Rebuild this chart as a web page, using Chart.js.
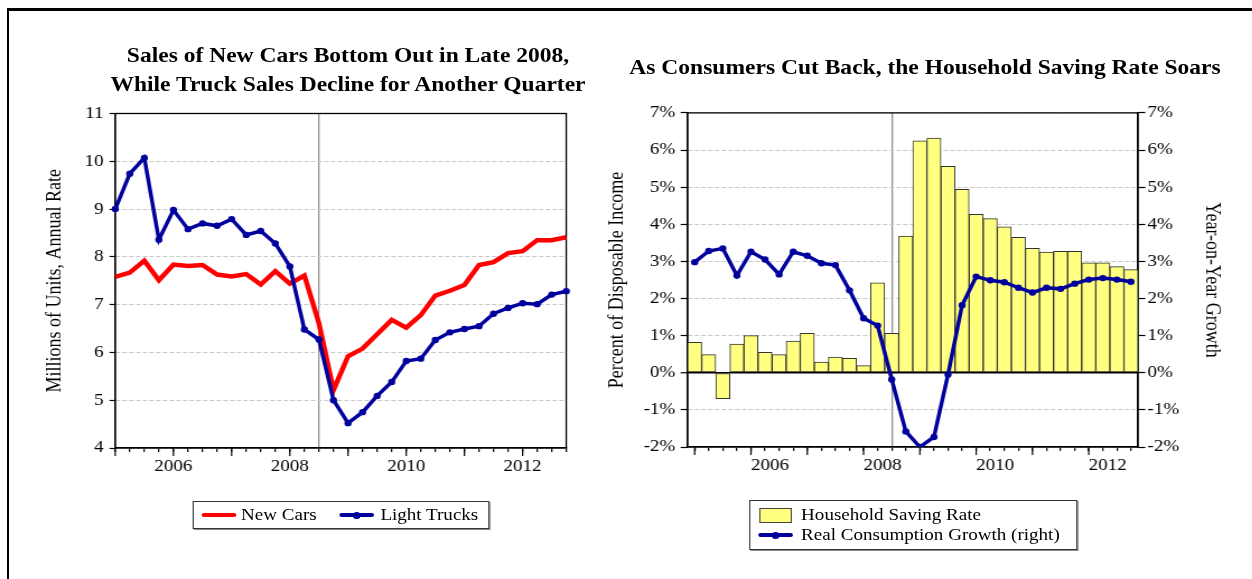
<!DOCTYPE html>
<html>
<head>
<meta charset="utf-8">
<title>New car sales and the household saving rate</title>
<script src="https://cdn.jsdelivr.net/npm/chart.js@4.4.1/dist/chart.umd.min.js"></script>
<style>
html,body{margin:0;padding:0;background:#fff;}
body{width:1252px;height:579px;overflow:hidden;position:relative;}
#frame{position:absolute;left:7px;top:8px;width:1260px;height:590px;border-left:2.5px solid #000;border-top:3px solid #000;}
#sheet{position:absolute;left:0;top:0;height:579px;transform-origin:0 0;font-family:"Liberation Serif","Times New Roman",serif;color:#000;}
#sheet canvas{position:absolute;}
.title{position:absolute;font-weight:bold;font-size:21px;line-height:29px;text-align:center;white-space:nowrap;transform:translateX(-50%);}
.legend{position:absolute;border:1px solid #333;box-shadow:1px 1px 0 #888;background:#fff;font-size:17px;}
.legend div{position:absolute;white-space:nowrap;line-height:20px;}
.swatch{background:#ffff80;border:1px solid #444;box-sizing:border-box;}
.stroke{height:4px;border-radius:2px;}
.stroke.dot::after{content:"";position:absolute;left:50%;top:50%;width:7px;height:7px;margin:-3.5px 0 0 -3.5px;border-radius:50%;background:inherit;}
</style>
</head>
<body>
<div id="frame"></div>
<div id="sheet"></div>
<script>
// quarterly data, 2005Q1 - 2012Q4
const quarters = [
  '2005Q1','2005Q2','2005Q3','2005Q4','2006Q1','2006Q2','2006Q3','2006Q4',
  '2007Q1','2007Q2','2007Q3','2007Q4','2008Q1','2008Q2','2008Q3','2008Q4',
  '2009Q1','2009Q2','2009Q3','2009Q4','2010Q1','2010Q2','2010Q3','2010Q4',
  '2011Q1','2011Q2','2011Q3','2011Q4','2012Q1','2012Q2','2012Q3','2012Q4'
];
const yearLabels = ['2006', '2008', '2010', '2012'];
const markerQuarter = '2008Q3';

// millions of units, annual rate
const newCars = [7.58, 7.67, 7.92, 7.51, 7.84, 7.81, 7.83, 7.63, 7.59, 7.64, 7.42, 7.70, 7.44, 7.61, 6.61, 5.21,
  5.92, 6.08, 6.38, 6.68, 6.52, 6.78, 7.19, 7.29, 7.41, 7.83, 7.89, 8.08, 8.12, 8.35, 8.35, 8.41];
const lightTrucks = [9.00, 9.74, 10.07, 8.36, 8.98, 8.58, 8.70, 8.65, 8.79, 8.46, 8.54, 8.28, 7.80, 6.48, 6.27, 5.00,
  4.52, 4.75, 5.09, 5.38, 5.82, 5.87, 6.26, 6.42, 6.49, 6.55, 6.81, 6.93, 7.03, 7.01, 7.21, 7.28];

// percent
const savingRate = [0.82, 0.49, -0.70, 0.77, 1.00, 0.55, 0.49, 0.85, 1.06, 0.29, 0.42, 0.39, 0.19, 2.42, 1.06, 3.68,
  6.25, 6.32, 5.56, 4.94, 4.27, 4.15, 3.93, 3.65, 3.35, 3.25, 3.27, 3.27, 2.96, 2.96, 2.86, 2.78];
const consumptionGrowth = [2.98, 3.28, 3.35, 2.62, 3.26, 3.05, 2.65, 3.26, 3.15, 2.95, 2.90, 2.22, 1.47, 1.27, -0.18, -1.58,
  -2.00, -1.73, -0.05, 1.82, 2.59, 2.49, 2.44, 2.29, 2.16, 2.29, 2.26, 2.40, 2.51, 2.55, 2.51, 2.45];

const NAVY = '#00009c';
const RED = '#ff0000';

// the sheet is drawn narrow and stretched sideways
const S = 1.12;
const X = v => v / S;
const sheet = document.getElementById('sheet');
sheet.style.width = X(1252) + 'px';
sheet.style.transform = 'scaleX(' + S + ')';

function el(cls, x, y, w, h, parent) {
  const d = document.createElement('div');
  if (cls) d.className = cls;
  d.style.left = X(x) + 'px';
  d.style.top = y + 'px';
  if (w != null) d.style.width = X(w) + 'px';
  if (h != null) d.style.height = h + 'px';
  (parent || sheet).appendChild(d);
  return d;
}

// titles
el('title', 348, 40.5).innerHTML = 'Sales of New Cars Bottom Out in Late 2008,<br>While Truck Sales Decline for Another Quarter';
el('title', 925, 52.5).textContent = 'As Consumers Cut Back, the Household Saving Rate Soars';

// legends (coordinates relative to each box)
const lg1 = el('legend', 193, 501, 294, 26);
el('stroke', 7.7, 11, 34.3, null, lg1).style.background = RED;
el('', 47, 3, null, null, lg1).textContent = 'New Cars';
el('stroke dot', 145.3, 11, 34.4, null, lg1).style.background = NAVY;
el('', 186.3, 3, null, null, lg1).textContent = 'Light Trucks';

const lg2 = el('legend', 749.3, 500, 325.7, 48);
el('swatch', 8.7, 7, 33, 15, lg2);
el('', 50.7, 4, null, null, lg2).textContent = 'Household Saving Rate';
el('stroke dot', 7.7, 32, 35, null, lg2).style.background = NAVY;
el('', 50.7, 24, null, null, lg2).textContent = 'Real Consumption Growth (right)';

function makeCanvas(x, y, w, h) {
  const c = document.createElement('canvas');
  c.width = Math.round(X(w));
  c.height = h;
  c.style.left = X(x) + 'px';
  c.style.top = y + 'px';
  sheet.appendChild(c);
  return c;
}

Chart.defaults.font.family = '"Liberation Serif", "Times New Roman", serif';
Chart.defaults.font.size = 17;
Chart.defaults.color = '#000';

// outline around the plot area
const frameBox = {
  id: 'frameBox',
  beforeDatasetsDraw(chart) {
    const a = chart.chartArea, ctx = chart.ctx;
    ctx.save();
    ctx.strokeStyle = '#000';
    ctx.lineWidth = 1.3;
    ctx.strokeRect(a.left, a.top, a.right - a.left, a.bottom - a.top);
    ctx.restore();
  }
};

// longer tick marks at the start of each year
const yearTicks = {
  id: 'yearTicks',
  afterDraw(chart) {
    const sx = chart.scales.x, ctx = chart.ctx, b = chart.chartArea.bottom;
    ctx.save();
    ctx.strokeStyle = '#000';
    ctx.lineWidth = 1.2;
    ctx.beginPath();
    quarters.forEach((q, i) => {
      if (q.endsWith('Q1')) {
        const x = sx.getPixelForTick(i);
        ctx.moveTo(x, b);
        ctx.lineTo(x, b + 8);
      }
    });
    ctx.stroke();
    ctx.restore();
  }
};

function yearTick(v, i) {
  const q = quarters[i];
  const yr = q.slice(0, 4);
  return q.endsWith('Q1') && yearLabels.includes(yr) ? yr : '';
}

function xAxis(align) {
  return {
    offset: false,
    grid: {
      offset: false,
      color: c => quarters[c.index] === markerQuarter ? '#8c8c8c' : 'rgba(0,0,0,0)',
      lineWidth: 1.3,
      tickLength: 4,
      tickColor: '#000',
      tickWidth: 1.2
    },
    border: { color: '#000', width: 1.3 },
    ticks: { autoSkip: false, maxRotation: 0, minRotation: 0, align: align, padding: 4, callback: yearTick },
    afterFit: s => { s.height = 31; }
  };
}

// left: car and truck sales
const c1 = makeCanvas(30, 98, 550, 381);
new Chart(c1, {
  type: 'line',
  data: {
    labels: quarters,
    datasets: [
      { label: 'Light Trucks', data: lightTrucks, borderColor: NAVY, backgroundColor: NAVY,
        borderWidth: 3.5, pointRadius: 3.2, pointBorderWidth: 0, tension: 0 },
      { label: 'New Cars', data: newCars, borderColor: RED, backgroundColor: RED,
        borderWidth: 4.5, pointRadius: 0, tension: 0 }
    ]
  },
  options: {
    responsive: false,
    animation: false,
    events: [],
    layout: { padding: { top: 12, left: 0, bottom: 0, right: c1.width - X(566 - 30) } },
    plugins: { legend: { display: false }, tooltip: { enabled: false } },
    scales: {
      x: xAxis('center'),
      y: {
        min: 4, max: 11,
        ticks: { stepSize: 1, padding: 5.3 },
        grid: { color: '#c8c8c8', lineWidth: 1, tickLength: 5.1, tickColor: '#000', tickWidth: 1.2 },
        border: { color: '#000', width: 1.3, dash: [4, 2] },
        title: { display: true, text: 'Millions of Units, Annual Rate', font: { size: 18 }, padding: { top: 11.5, bottom: 0 } },
        afterFit: s => { s.width = X(115 - 30); }
      }
    }
  },
  plugins: [frameBox, yearTicks]
});

// right: saving rate and consumption growth
const c2 = makeCanvas(600, 98, 630, 380);
new Chart(c2, {
  type: 'bar',
  data: {
    labels: quarters,
    datasets: [
      { type: 'line', label: 'Real Consumption Growth (right)', data: consumptionGrowth, yAxisID: 'y2',
        borderColor: NAVY, backgroundColor: NAVY, borderWidth: 3.5, pointRadius: 3.2, pointBorderWidth: 0,
        tension: 0, order: 0 },
      { type: 'bar', label: 'Household Saving Rate', data: savingRate, yAxisID: 'y',
        backgroundColor: '#ffff80', borderColor: '#333', borderWidth: 1, borderSkipped: false,
        categoryPercentage: 1, barPercentage: 1, order: 1 }
    ]
  },
  options: {
    responsive: false,
    animation: false,
    events: [],
    layout: { padding: { top: 12, left: 0, bottom: 0, right: 0 } },
    plugins: { legend: { display: false }, tooltip: { enabled: false } },
    scales: {
      x: Object.assign(xAxis('start'), { offset: true }),
      y: {
        min: -2, max: 7,
        ticks: { stepSize: 1, padding: 4.7, callback: v => v + '%' },
        grid: {
          color: c => c.tick && c.tick.value === 0 ? '#000' : '#c8c8c8',
          lineWidth: c => c.tick && c.tick.value === 0 ? 1.5 : 1,
          tickLength: 6.25, tickColor: '#000', tickWidth: 1.2
        },
        border: { color: '#000', width: 1.3, dash: c => c.tick && c.tick.value === 0 ? [] : [4, 2] },
        title: { display: true, text: 'Percent of Disposable Income', font: { size: 18 }, padding: { top: 4.4, bottom: 0 } },
        afterFit: s => { s.width = X(687.3 - 600); }
      },
      y2: {
        position: 'right',
        min: -2, max: 7,
        ticks: { stepSize: 1, padding: 2, callback: v => v + '%' },
        grid: { drawOnChartArea: false, tickLength: 6.5, tickColor: '#000', tickWidth: 1.2 },
        border: { color: '#000', width: 1.3 },
        title: { display: true, text: 'Year-on-Year Growth', font: { size: 18 }, padding: { top: 6.5, bottom: 0 } },
        afterFit: s => { s.width = c2.width - X(1137.7 - 600); }
      }
    }
  },
  plugins: [frameBox, yearTicks]
});
</script>
</body>
</html>
